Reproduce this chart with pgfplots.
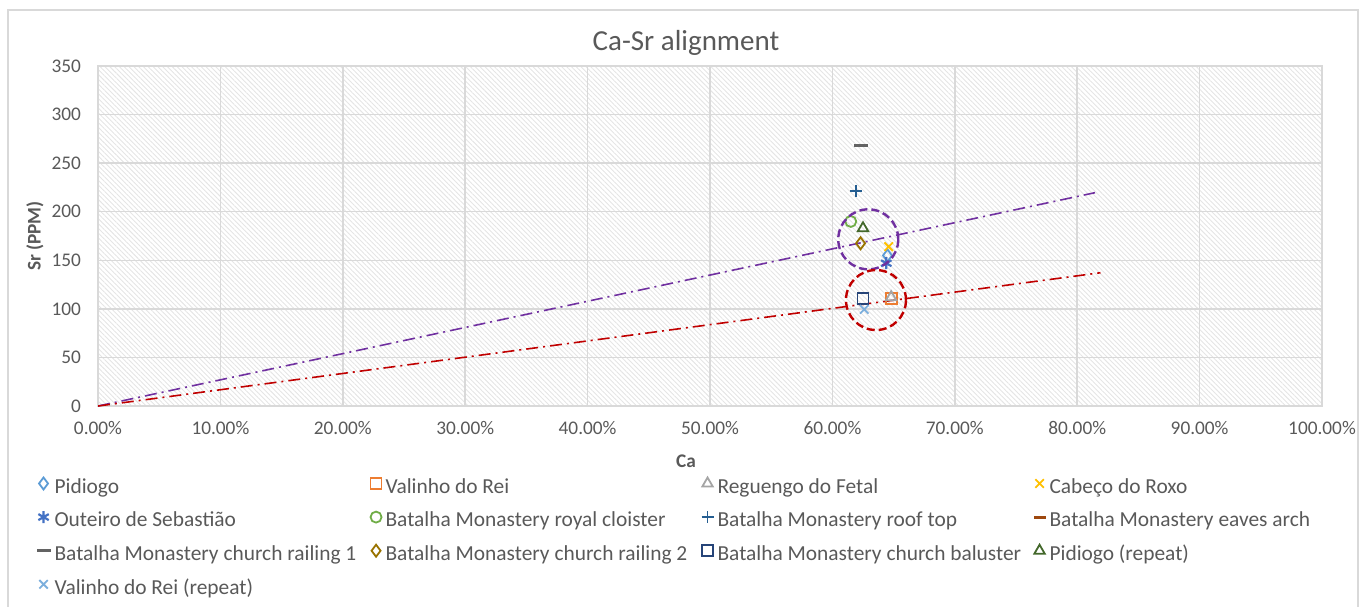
\documentclass[border=0pt]{standalone}
\usepackage{pgfplots}
\pgfplotsset{compat=1.18}
\usepackage{fontspec}
\setmainfont{Carlito}
\usetikzlibrary{patterns.meta}
\definecolor{txt}{HTML}{595959}
\definecolor{grd}{HTML}{D9D9D9}
\definecolor{c1}{HTML}{5B9BD5}
\definecolor{c2}{HTML}{ED7D31}
\definecolor{c3}{HTML}{A5A5A5}
\definecolor{c4}{HTML}{FFC000}
\definecolor{c5}{HTML}{4472C4}
\definecolor{c6}{HTML}{70AD47}
\definecolor{c7}{HTML}{255E91}
\definecolor{c8}{HTML}{9E480E}
\definecolor{c9}{HTML}{636363}
\definecolor{c10}{HTML}{997300}
\definecolor{c11}{HTML}{264478}
\definecolor{c12}{HTML}{43682B}
\definecolor{c13}{HTML}{7CAFDD}
\definecolor{pur}{HTML}{7030A0}
\definecolor{red}{HTML}{C00000}
\newcommand\LE[1]{\makebox[156pt][l]{\rule[-5.6pt]{0pt}{16.9pt}#1}}
\begin{document}
\begin{tikzpicture}
\path[use as bounding box] (0,0) rectangle (679.5pt,-303pt);
\draw[grd, line width=0.75pt] (4pt,-310pt) -- (4pt,-5pt) -- (679pt,-5pt) -- (679pt,-310pt);
\begin{axis}[
  at={(49pt,-203pt)}, anchor=south west,
  width=612pt, height=170pt, scale only axis,
  xmin=0, xmax=100, ymin=0, ymax=350,
  xtick={0,10,...,100}, ytick={0,50,...,350},
  xticklabel={\pgfmathprintnumber[fixed,fixed zerofill,precision=2,assume math mode=true]{\tick}\%},
  yticklabel style={/pgf/number format/assume math mode=true, xshift=-5pt},
  xticklabel style={yshift=-4pt},
  ticklabel style={font=\fontsize{9.65}{11}\selectfont, text=txt},
  major tick length=0pt, tick style={draw=none},
  grid=major, major grid style={grd, line width=0.75pt},
  axis line style={grd, line width=0.75pt},
  axis background/.style={pattern={Lines[angle=-45,distance=1.7pt,line width=0.45pt]}, pattern color=black!10},
  legend columns=4,
  legend image code/.code={\draw[#1] plot coordinates {(0pt,0pt)};},
  legend style={at={(axis description cs:-0.0502,-0.1785)}, anchor=north west,
    draw=none, fill=none, inner sep=0pt, outer sep=0pt,
    font=\fontsize{10.7}{12}\selectfont, text=txt, cells={anchor=west}},
  every axis plot/.append style={only marks, mark size=2.75pt, line width=0.9pt},
]
\addplot[pur, no marks, sharp plot, line width=0.8pt, dash pattern=on 6pt off 2.5pt on 1pt off 2.5pt, forget plot] coordinates {(0,0) (81.45,219.6)};
\addplot[red, no marks, sharp plot, line width=0.8pt, dash pattern=on 6pt off 2.5pt on 1pt off 2.5pt, forget plot] coordinates {(0,0) (81.9,137.2)};

\addplot[c1, mark=diamond, mark size=3pt] coordinates {(64.5,155)}; \addlegendentry{\LE{Pidiogo}}
\addplot[c2, mark=square] coordinates {(64.8,111)}; \addlegendentry{\LE{Valinho do Rei}}
\addplot[c3, mark=triangle, mark size=3pt] coordinates {(64.8,112)}; \addlegendentry{\LE{Reguengo do Fetal}}
\addplot[c4, mark=x, mark size=3pt] coordinates {(64.6,164)}; \addlegendentry{\LE{Cabeço do Roxo}}
\addplot[c5, mark=asterisk, mark size=3pt, line width=1.1pt] coordinates {(64.4,147)}; \addlegendentry{\LE{Outeiro de Sebastião}}
\addplot[c6, mark=o] coordinates {(61.5,190)}; \addlegendentry{\LE{Batalha Monastery royal cloister}}
\addplot[c7, mark=+, mark size=3pt] coordinates {(61.9,221)}; \addlegendentry{\LE{Batalha Monastery roof top}}
\addplot[c8, mark=-, mark size=3pt, line width=1.6pt] coordinates {(62.3,268.5)}; \addlegendentry{\LE{Batalha Monastery eaves arch}}
\addplot[c9, mark=-, mark size=3.5pt, line width=1.6pt] coordinates {(62.3,268.5)}; \addlegendentry{\LE{Batalha Monastery church railing 1}}
\addplot[c10, mark=diamond, mark size=3pt] coordinates {(62.3,167.5)}; \addlegendentry{\LE{Batalha Monastery church railing 2}}
\addplot[c11, mark=square] coordinates {(62.5,111)}; \addlegendentry{\LE{Batalha Monastery church baluster}}
\addplot[c12, mark=triangle, mark size=3pt] coordinates {(62.5,183)}; \addlegendentry{\LE{Pidiogo (repeat)}}
\addplot[c13, mark=x, mark size=3pt] coordinates {(62.6,99.5)}; \addlegendentry{\LE{Valinho do Rei (repeat)}}

\addplot[pur, mark=o, mark size=15pt, forget plot, mark options={line width=1.2pt, dash pattern=on 4pt off 2pt}] coordinates {(62.93,171.6)};
\addplot[red, mark=o, mark size=15pt, forget plot, mark options={line width=1.2pt, dash pattern=on 4pt off 2pt}] coordinates {(63.56,109.1)};
\end{axis}
\node[text=txt, font=\fontsize{14.5}{16}\selectfont] at (343pt,-21.5pt) {Ca-Sr alignment};
\node[text=txt, font=\fontsize{9.65}{11}\selectfont\bfseries] at (343pt,-230.5pt) {Ca};
\node[text=txt, rotate=90, font=\fontsize{9.65}{11}\selectfont\bfseries] at (17.5pt,-118pt) {Sr (PPM)};
\end{tikzpicture}
\end{document}
